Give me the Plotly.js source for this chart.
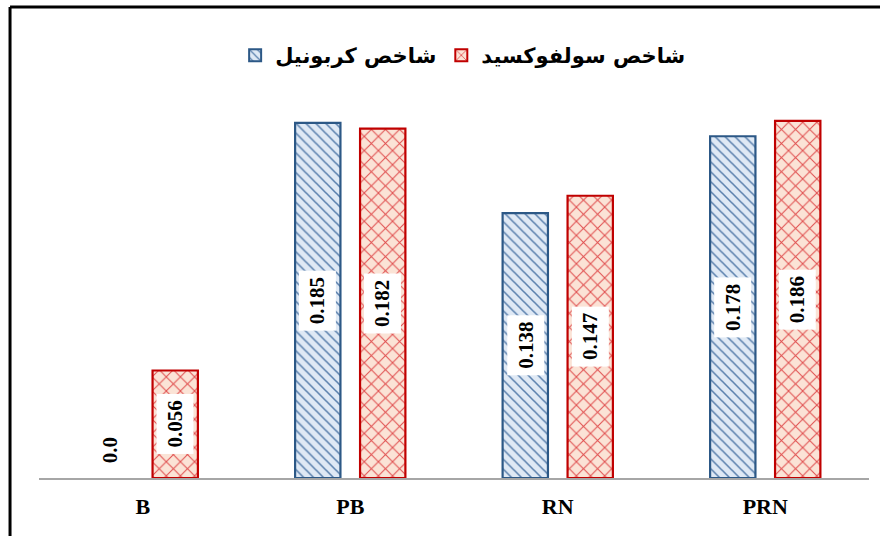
<!DOCTYPE html>
<html>
<head>
<meta charset="utf-8">
<script src="https://cdn.plot.ly/plotly-3.0.1.min.js"></script>
<style>html,body{margin:0;padding:0;background:#fff;}#chart{width:880px;height:536px;}</style>
</head>
<body>
<div id="chart"></div>
<script>
var categories = ["B", "PB", "RN", "PRN"];
var carbonyl = [0.0, 0.185, 0.138, 0.178];
var sulfoxide = [0.056, 0.182, 0.147, 0.186];
var carbonylLabels = ["0.0", "0.185", "0.138", "0.178"];
var sulfoxideLabels = ["0.056", "0.182", "0.147", "0.186"];
var seriesNames = ["شاخص کربونیل", "شاخص سولفوکسید"];

var bargap = 0.374, bargroupgap = 0.302;
var off = (1 - bargap) / 4;

function lineWidths(vals) { return vals.map(function (v) { return v === 0 ? 0 : 2.2; }); }

var traces = [
  {
    type: "bar", name: seriesNames[0], x: categories, y: carbonyl,
    marker: {
      color: "#dfe9f5",
      line: {color: "#2c5886", width: lineWidths(carbonyl)},
      pattern: {shape: "\\", fgcolor: "#5a80ad", bgcolor: "#dfe9f5", size: 7, solidity: 0.22}
    },
    hoverinfo: "none"
  },
  {
    type: "bar", name: seriesNames[1], x: categories, y: sulfoxide,
    marker: {
      color: "#fbe3d6",
      line: {color: "#c00000", width: lineWidths(sulfoxide)},
      pattern: {shape: "x", fgcolor: "#e05050", bgcolor: "#fbe3d6", size: 10, solidity: 0.2}
    },
    hoverinfo: "none"
  }
];

var annotations = [];
for (var i = 0; i < categories.length; i++) {
  var vals = [carbonyl[i], sulfoxide[i]];
  var labs = [carbonylLabels[i], sulfoxideLabels[i]];
  for (var s = 0; s < 2; s++) {
    var xpos = i + (s === 0 ? -off : off);
    var isZero = vals[s] === 0;
    annotations.push({
      x: xpos, y: isZero ? 0 : vals[s] / 2, xref: "x", yref: "y",
      text: labs[s], showarrow: false, textangle: -90,
      yshift: isZero ? 28 : 0,
      bgcolor: isZero ? "rgba(0,0,0,0)" : "#ffffff",
      borderpad: 6,
      font: {family: "Liberation Serif", size: 21, color: "#000", weight: "bold"}
    });
  }
}

var layout = {
  width: 880, height: 536,
  margin: {l: 39, r: 11, t: 94, b: 58},
  paper_bgcolor: "#ffffff", plot_bgcolor: "#ffffff",
  barmode: "group", bargap: bargap, bargroupgap: bargroupgap,
  showlegend: true,
  legend: {
    orientation: "h", x: 0.511, xanchor: "center", y: 1.10, yanchor: "middle",
    font: {family: "DejaVu Sans", size: 21, color: "#000", weight: "bold"},
    itemsizing: "constant", traceorder: "normal"
  },
  xaxis: {
    type: "category", range: [-0.5, 3.5],
    showline: true, linecolor: "#a6a6a6", linewidth: 2,
    showgrid: false, zeroline: false, ticks: "",
    tickfont: {family: "Liberation Serif", size: 22, color: "#000", weight: "bold"},
    ticklabelstandoff: 8, fixedrange: true
  },
  yaxis: {
    range: [0, 0.2], visible: false, showgrid: false, zeroline: false, fixedrange: true
  },
  annotations: annotations,
  shapes: [
    {type: "line", xref: "paper", yref: "paper", x0: -0.0349, x1: -0.0349, y0: 1.2266, y1: -0.25,
     line: {color: "#000", width: 3}},
    {type: "line", xref: "paper", yref: "paper", x0: -0.0349, x1: 1.1, y0: 1.2266, y1: 1.2266,
     line: {color: "#000", width: 3}}
  ]
};

Plotly.newPlot("chart", traces, layout, {displayModeBar: false, staticPlot: true});
</script>
</body>
</html>
